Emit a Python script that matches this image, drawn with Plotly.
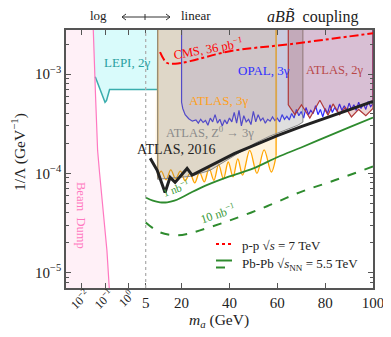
import numpy as np
import plotly.graph_objects as go

# x axis: log scale below 5 GeV, linear above. One decade of the log part
# gets as much room as 10 GeV of the linear part.
M_SPLIT = 5.0
DECADE = 10.0
TOP = 3.2e-3  # just above the y range, used to close the exclusion regions


def xt(m):
    m = np.asarray(m, dtype=float)
    return np.where(m >= M_SPLIT, m, M_SPLIT + DECADE * (np.log10(m) - np.log10(M_SPLIT)))


# Beam dump edge
beam_m = [0.030, 0.0323, 0.0403, 0.049, 0.0593, 0.076, 0.12, 0.151, 0.16]
beam_y = [4e-3, 2.8e-3, 5.9e-4, 1.7e-4, 1.0e-4, 5.3e-5, 1.67e-5, 6.9e-6, 5e-6]

# LEP I, 2 gamma
lep_m = [0.039, 0.087, 0.1, 0.115, 0.155, 10]
lep_y = [9.4e-4, 5.45e-4, 5.2e-4, 5.4e-4, 7.0e-4, 7.0e-4]

# CMS 36 pb^-1 projection
cms_m = [11, 13.8, 17.3, 23.6, 40.2, 65.3, 100]
cms_y = [1.66e-3, 1.3e-3, 1.27e-3, 1.35e-3, 1.7e-3, 2.0e-3, 2.58e-3]

# OPAL, 3 gamma
opal_m = [20, 20.5, 21.5, 23, 24.5, 26, 27, 28, 29, 30, 31, 32, 33, 34, 35, 36, 37, 38, 39, 40,
          41, 42, 43, 44, 45, 46, 47, 48, 49, 50, 51, 52, 53, 54, 55, 56, 57, 58, 59, 60,
          61, 62, 63, 64, 65, 66, 67, 68, 69, 70, 71, 72, 73, 74, 75, 76, 77, 78, 79, 80,
          81, 82, 83, 84, 85, 86, 87, 88, 89, 90, 91, 92, 93, 94, 95, 96, 97, 98, 99, 100]
opal_y = [5.2e-4, 4.5e-4, 3.9e-4, 3.55e-4, 3.35e-4, 3.45e-4, 3.2e-4, 3.5e-4, 3.25e-4, 3.4e-4,
          3.05e-4, 3.6e-4, 3.3e-4, 3.9e-4, 3.2e-4, 3.5e-4, 3.0e-4, 3.45e-4, 3.15e-4, 3.6e-4,
          3.3e-4, 4.1e-4, 3.2e-4, 4.3e-4, 3.0e-4, 3.8e-4, 3.3e-4, 3.5e-4, 3.1e-4, 4.2e-4,
          3.3e-4, 3.9e-4, 3.4e-4, 3.6e-4, 3.2e-4, 3.5e-4, 3.35e-4, 3.7e-4, 3.4e-4, 3.6e-4,
          3.3e-4, 3.9e-4, 3.5e-4, 3.75e-4, 3.45e-4, 4.0e-4, 3.6e-4, 4.4e-4, 3.8e-4, 4.2e-4,
          3.6e-4, 4.6e-4, 3.9e-4, 4.3e-4, 4.0e-4, 4.8e-4, 3.9e-4, 4.4e-4, 3.7e-4, 4.5e-4,
          4.0e-4, 4.9e-4, 4.1e-4, 4.6e-4, 4.2e-4, 5.0e-4, 4.3e-4, 4.8e-4, 4.2e-4, 5.1e-4,
          4.4e-4, 4.9e-4, 4.3e-4, 5.2e-4, 4.5e-4, 5.0e-4, 4.4e-4, 5.3e-4, 4.7e-4, 5.0e-4]

# ATLAS, 3 gamma
atlas3_m = [10, 11.5, 13.5, 15.5, 17.5, 19.5, 21.5, 23.5, 25.5, 27.5, 29.5, 31.5, 33.5,
            35.5, 37.5, 39.5, 41.5, 43.5, 45.5, 48.5, 51.5, 54.5, 57.5, 59.5]
atlas3_y = [8.9e-5, 1.05e-4, 8.6e-5, 1.08e-4, 8.8e-5, 1.05e-4, 8.4e-5, 1.0e-4, 8.0e-5, 1.02e-4,
            8.2e-5, 1.12e-4, 8.5e-5, 1.22e-4, 8.8e-5, 1.3e-4, 9.2e-5, 1.4e-4, 9.6e-5, 1.7e-4,
            1.0e-4, 1.72e-4, 1.03e-4, 1.5e-4]

# ATLAS, Z0 -> 3 gamma
z3_m = [10, 23.5, 31.9, 42.3, 50.7, 56.9, 63.2, 68.6, 70.7]
z3_y = [8.7e-5, 9.3e-5, 1.07e-4, 1.52e-4, 2.01e-4, 2.37e-4, 2.72e-4, 3.05e-4, 3.28e-4]

# ATLAS, 2 gamma
atlas2_m = [64.6, 67.4, 70.1, 73.6, 77.8, 81.2, 83.3, 86, 88.5, 91, 94, 97, 100]
atlas2_y = [4.9e-4, 3.9e-4, 4.9e-4, 3.6e-4, 5.45e-4, 3.85e-4, 5.0e-4, 3.9e-4, 4.6e-4,
            3.7e-4, 4.4e-4, 3.8e-4, 4.5e-4]

# ATLAS 2016
atlas16_m = [6.9, 9.8, 13.1, 15.2, 17.3, 22.3, 24.4, 32, 42, 50, 60, 70, 80, 90, 100]
atlas16_y = [1.42e-4, 1.07e-4, 6.4e-5, 9.1e-5, 8.1e-5, 1.12e-4, 9.6e-5, 1.19e-4, 1.58e-4,
             1.9e-4, 2.4e-4, 2.95e-4, 3.6e-4, 4.4e-4, 5.3e-4]

# Pb-Pb projections
pb1_m = [5, 8, 11, 14, 17, 20, 24, 30, 40, 50, 60, 70, 80, 90, 100]
pb1_y = [5.7e-5, 5.3e-5, 5.1e-5, 5.1e-5, 5.3e-5, 5.7e-5, 6.4e-5, 7.5e-5, 9.3e-5, 1.12e-4,
         1.45e-4, 1.82e-4, 2.3e-4, 2.9e-4, 3.65e-4]
pb10_m = [5, 11, 18.1, 23.5, 27.7, 40.2, 55.7, 69.4, 84, 100]
pb10_y = [3.2e-5, 2.54e-5, 2.37e-5, 2.48e-5, 2.66e-5, 3.35e-5, 4.65e-5, 6.43e-5, 8.5e-5, 1.17e-4]

xtick_m = [0.01, 0.1, 1, 5, 20, 40, 60, 80, 100]
xtick_text = ["", "", "", "5", "20", "40", "60", "80", "100"]
log_tick_text = ["10<sup>−2</sup>", "10<sup>−1</sup>", "10<sup>0</sup>"]
ytick_vals = [1e-5, 1e-4, 1e-3]
ytick_text = ["10<sup>−5</sup>", "10<sup>−4</sup>", "10<sup>−3</sup>"]
yminor = [d * 10.0 ** e for e in (-6, -5, -4, -3) for d in range(2, 10)]

FONT = "Liberation Serif"
W, H = 391, 337
# the page body has an 8px margin, so the figure sits 8px right and down
OFF = 8
PL, PR, PT, PB = 66, 373, 30, 288  # wanted plot box, in window pixels


def px(x, y):
    # window pixel position -> paper coordinates
    return (x - PL) / (PR - PL), (PB - y) / (PB - PT)


fig = go.Figure()


def region(xs, ys, fill, line, width=1.2, shape="linear"):
    fig.add_trace(go.Scatter(x=xt(xs), y=ys, mode="lines", fill="toself", fillcolor=fill,
                             line=dict(color=line, width=width, shape=shape),
                             hoverinfo="skip", showlegend=False))


# LEP
region(lep_m + [10, 0.03], lep_y + [TOP, TOP], "rgba(0,230,230,0.15)", "rgba(0,0,0,0)", 0)
fig.add_trace(go.Scatter(x=xt(lep_m), y=lep_y, mode="lines", showlegend=False,
                         line=dict(color="#3aadad", width=1.5)))
# beam dump
region([1e-3] + beam_m + [1e-3], [4e-3] + beam_y + [5e-6], "rgba(255,105,180,0.1)",
       "rgba(0,0,0,0)", 0)
fig.add_trace(go.Scatter(x=xt(beam_m), y=beam_y, mode="lines", showlegend=False,
                         line=dict(color="#ff78c0", width=1.2)))
# OPAL
region([20] + opal_m + [100], [TOP] + opal_y + [TOP], "rgba(0,0,255,0.1)", "#2a2aff", 1.2)
# ATLAS 3 gamma: fill with straight edges, smooth wiggle drawn on top
region([10] + atlas3_m + [59.5], [TOP] + atlas3_y + [TOP], "rgba(255,165,0,0.12)",
       "rgba(0,0,0,0)", 0, "spline")
fig.add_trace(go.Scatter(x=xt(atlas3_m), y=atlas3_y, mode="lines", showlegend=False,
                         line=dict(color="orange", width=1.3, shape="spline")))
fig.add_trace(go.Scatter(x=xt([10, 10]), y=[TOP, atlas3_y[0]], mode="lines", showlegend=False,
                         line=dict(color="orange", width=1.3)))
fig.add_trace(go.Scatter(x=xt([59.5, 59.5]), y=[TOP, atlas3_y[-1]], mode="lines",
                         showlegend=False, line=dict(color="orange", width=1.3)))
# ATLAS Z -> 3 gamma
region([10] + z3_m + [70.7], [TOP] + z3_y + [TOP], "rgba(128,128,128,0.25)", "#888888", 1.0)
# ATLAS 2 gamma
region([64.6] + atlas2_m + [100], [TOP] + atlas2_y + [TOP], "rgba(165,42,42,0.2)", "#b03838",
       1.2)

fig.add_trace(go.Scatter(x=xt(cms_m), y=cms_y, mode="lines", showlegend=False,
                         line=dict(color="red", width=2, dash="dashdot", shape="spline")))
fig.add_trace(go.Scatter(x=xt(pb1_m), y=pb1_y, mode="lines", showlegend=False,
                         line=dict(color="#2e8b2e", width=1.8, shape="spline")))
fig.add_trace(go.Scatter(x=xt(pb10_m), y=pb10_y, mode="lines", showlegend=False,
                         line=dict(color="#2e8b2e", width=2, dash="dash", shape="spline")))
fig.add_trace(go.Scatter(x=xt(atlas16_m), y=atlas16_y, mode="lines", showlegend=False,
                         line=dict(color="#222222", width=3)))

labels = [
    (127, 62, "LEPI, 2γ", "#2aa0a0", 13, 0),
    (208, 48, "CMS, 36 pb<sup>−1</sup>", "red", 12.5, -10),
    (264, 70, "OPAL, 3γ", "#3030ff", 13, 0),
    (334, 70, "ATLAS, 2γ", "#b84848", 12.5, 0),
    (218, 100, "ATLAS, 3γ", "#ffa020", 13, 0),
    (210, 132, "ATLAS, Z<sup>0</sup> → 3γ", "#8a8a8a", 12.5, 0),
    (176, 149, "ATLAS, 2016", "#222222", 14, 0),
    (176, 188, "1 nb<sup>−1</sup>", "#3a9a3a", 11, -20),
    (218, 214, "10 nb<sup>−1</sup>", "#3a9a3a", 12, -18),
    (81, 215, "Beam  Dump", "#ff78c0", 12.5, 90),
    (313, 17, "<i>aB</i><i>B̃</i>\u00a0\u00a0coupling", "#222222", 16, 0),
    (98, 16, "log", "#222222", 13, 0),
    (196, 16, "linear", "#222222", 13, 0),
    (79.6, 299, log_tick_text[0], "#222222", 12, -45),
    (103, 299, log_tick_text[1], "#222222", 12, -45),
    (126.3, 298.5, log_tick_text[2], "#222222", 12, -45),
    (219, 320, "<i>m<sub>a</sub></i> (GeV)", "#222222", 15.5, 0),
    (18, 152, "1/Λ (GeV<sup>−1</sup>)", "#222222", 15.5, -90),
]
annotations = []
for x, y, text, color, size, angle in labels:
    xp, yp = px(x, y)
    annotations.append(dict(x=xp, y=yp, xref="paper", yref="paper", text=text, showarrow=False,
                            xanchor="center", yanchor="middle", textangle=angle,
                            font=dict(family=FONT, size=size, color=color)))

# legend, drawn by hand (the Pb-Pb entry has two line samples)
for x, y, text in [(240, 246, "p-p √<i>s</i> = 7 TeV"),
                   (240, 264, "Pb-Pb √<i>s</i><sub>NN</sub> = 5.5 TeV")]:
    xp, yp = px(x, y)
    annotations.append(dict(x=xp, y=yp, xref="paper", yref="paper", text=text, showarrow=False,
                            xanchor="left", yanchor="middle",
                            font=dict(family=FONT, size=13, color="#222222")))

shapes = []


def pline(x0, y0, x1, y1, color, width, dash="solid"):
    a, b = px(x0, y0)
    c, d = px(x1, y1)
    shapes.append(dict(type="line", xref="paper", yref="paper", x0=a, y0=b, x1=c, y1=d,
                       line=dict(color=color, width=width, dash=dash)))


pline(216, 244, 231, 244, "red", 2, "dot")
pline(216, 260.5, 232, 260.5, "#2e8b2e", 2)
pline(216, 267.5, 232, 267.5, "#2e8b2e", 2, "dash")
# log <-> linear arrow
pline(122, 17, 170, 17, "#333333", 1)
pline(145, 14, 145, 20, "#333333", 1)
pline(122, 17, 126, 14, "#333333", 1)
pline(122, 17, 126, 20, "#333333", 1)
pline(170, 17, 166, 14, "#333333", 1)
pline(170, 17, 166, 20, "#333333", 1)
# boundary between the log and linear parts
shapes.append(dict(type="line", xref="x", yref="paper", x0=float(xt(5)), x1=float(xt(5)), y0=0,
                   y1=1, layer="above", line=dict(color="#b0b0b0", width=1.3, dash="dot")))

axis = dict(showline=True, linecolor="#555555", linewidth=1.5, mirror="ticks", ticks="inside",
            ticklen=5, tickcolor="#555555", showgrid=False, zeroline=False,
            tickfont=dict(family=FONT, size=15, color="#222222"))
fig.update_layout(
    width=W, height=H,
    margin=dict(l=PL - OFF, r=W + OFF - PR, t=PT - OFF, b=H + OFF - PB),
    paper_bgcolor="white", plot_bgcolor="white", showlegend=False,
    xaxis=dict(axis, range=[-28.3, 100], tickvals=xt(xtick_m).tolist(), ticktext=xtick_text),
    yaxis=dict(axis, type="log", range=[-5.156, -2.556], tickvals=ytick_vals,
               ticktext=ytick_text,
               minor=dict(tickvals=yminor, ticks="inside", ticklen=3, tickcolor="#555555")),
    annotations=annotations, shapes=shapes,
)

fig.write_html("out.html")
